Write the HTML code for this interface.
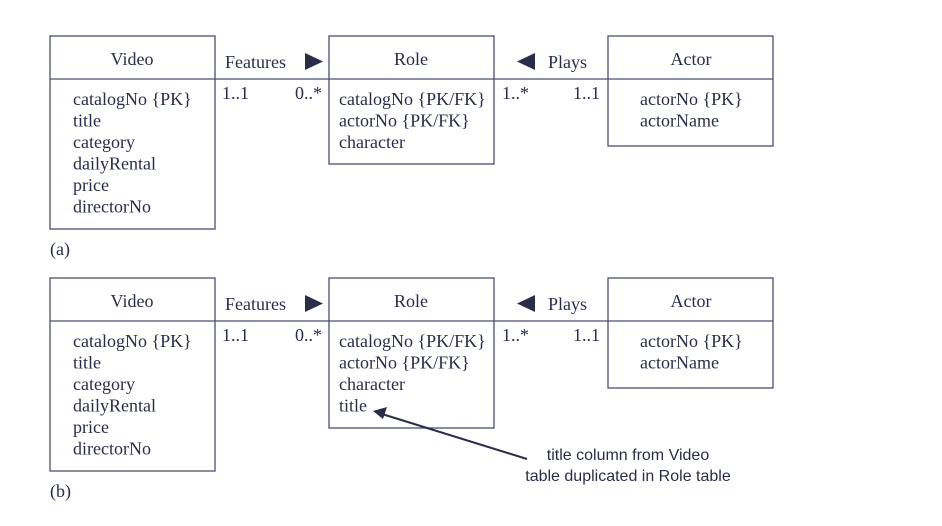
<!DOCTYPE html>
<html><head><meta charset="utf-8"><style>
html,body{margin:0;padding:0;background:#fff;}
svg{display:block;}
text{font-family:"Liberation Serif",serif;font-size:18px;fill:#2a2d4a;}
.s{font-family:"Liberation Sans",sans-serif;font-size:16px;}
</style></head><body>
<svg width="942" height="526" viewBox="0 0 942 526" xmlns="http://www.w3.org/2000/svg">
<g stroke="#4a4f70" stroke-width="1.3" fill="none">
<rect x="50" y="36" width="165" height="193"/>
<rect x="329" y="36" width="165" height="128"/>
<rect x="608" y="36" width="165" height="110"/>
<line x1="50" y1="79" x2="773" y2="79"/>
</g>
<polygon points="305,53 323,61.5 305,70" fill="#2a2d4a"/>
<polygon points="535,53 517,61.5 535,70" fill="#2a2d4a"/>
<text x="132" y="65" text-anchor="middle">Video</text>
<text x="411" y="65" text-anchor="middle">Role</text>
<text x="691" y="65" text-anchor="middle">Actor</text>
<text x="225" y="68">Features</text>
<text x="548" y="68">Plays</text>
<text x="222" y="99">1..1</text><text x="295" y="99">0..*</text>
<text x="502" y="99">1..*</text><text x="573" y="99">1..1</text>
<text x="73" y="105">catalogNo {PK}</text><text x="73" y="126.5">title</text><text x="73" y="148">category</text><text x="73" y="169.5">dailyRental</text><text x="73" y="191">price</text><text x="73" y="212.5">directorNo</text>
<text x="339" y="105">catalogNo {PK/FK}</text><text x="339" y="126.5">actorNo {PK/FK}</text><text x="339" y="148">character</text>
<text x="640" y="105">actorNo {PK}</text><text x="640" y="126.5">actorName</text>
<text x="50" y="255">(a)</text>

<g stroke="#4a4f70" stroke-width="1.3" fill="none">
<rect x="50" y="278" width="165" height="193"/>
<rect x="329" y="278" width="165" height="150"/>
<rect x="608" y="278" width="165" height="110"/>
<line x1="50" y1="321" x2="773" y2="321"/>
</g>
<polygon points="305,295 323,303.5 305,312" fill="#2a2d4a"/>
<polygon points="535,295 517,303.5 535,312" fill="#2a2d4a"/>
<text x="132" y="307" text-anchor="middle">Video</text>
<text x="411" y="307" text-anchor="middle">Role</text>
<text x="691" y="307" text-anchor="middle">Actor</text>
<text x="225" y="310">Features</text>
<text x="548" y="310">Plays</text>
<text x="222" y="341">1..1</text><text x="295" y="341">0..*</text>
<text x="502" y="341">1..*</text><text x="573" y="341">1..1</text>
<text x="73" y="347">catalogNo {PK}</text><text x="73" y="368.5">title</text><text x="73" y="390">category</text><text x="73" y="411.5">dailyRental</text><text x="73" y="433">price</text><text x="73" y="454.5">directorNo</text>
<text x="339" y="347">catalogNo {PK/FK}</text><text x="339" y="368.5">actorNo {PK/FK}</text><text x="339" y="390">character</text><text x="339" y="411.5">title</text>
<text x="640" y="347">actorNo {PK}</text><text x="640" y="368.5">actorName</text>
<text x="50" y="497">(b)</text>
<line x1="527" y1="459" x2="382" y2="414" stroke="#2a2d4a" stroke-width="2"/>
<polygon points="373,411 387,407 383,419" fill="#2a2d4a"/>
<text class="s" x="628" y="460" text-anchor="middle">title column from Video</text>
<text class="s" x="628" y="481" text-anchor="middle">table duplicated in Role table</text>
</svg>
</body></html>
